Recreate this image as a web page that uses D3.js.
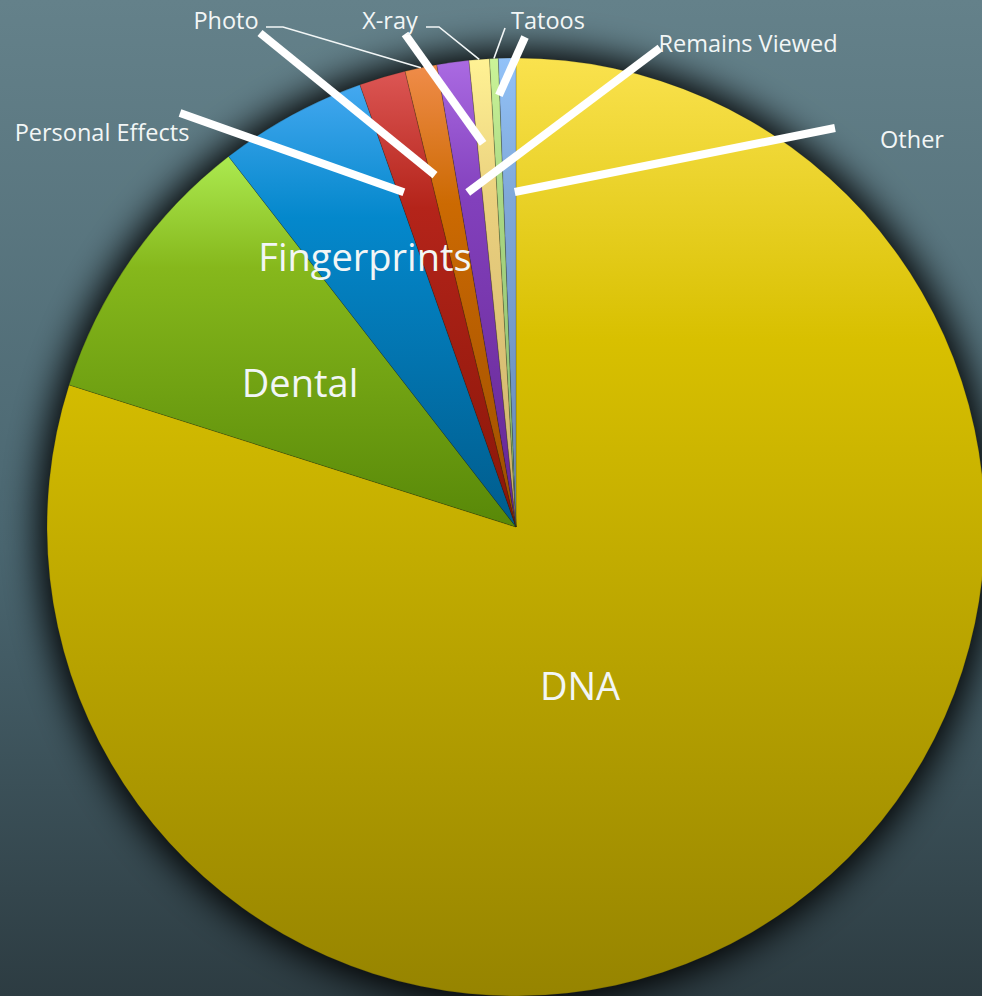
<!DOCTYPE html>
<html>
<head>
<meta charset="utf-8">
<script src="https://cdn.jsdelivr.net/npm/d3@7"></script>
<style>
  html, body { margin: 0; padding: 0; background: #2e3d43; }
  svg { display: block; }
  .lbl { fill: #f2f6f6; font-family: "Open Sans", sans-serif; }
</style>
</head>
<body>
<div id="chart"></div>
<script>
// data, clockwise from 12 o'clock
var categories = ["DNA", "Dental", "Fingerprints", "Personal Effects", "Photo",
                  "Remains Viewed", "X-ray", "Tatoos", "Other"];
var shares = [79.9, 9.6, 5.1, 1.6, 1.1, 1.1, 0.7, 0.3, 0.6];

// slice gradient colours (top, middle, bottom)
var topColors    = ["#fae24e", "#acea50", "#44a8f0", "#dc5654", "#f08c4a", "#aa6ae2", "#fff294", "#cbf498", "#92c2f8"];
var midColors    = ["#d8c000", "#86b81c", "#0488cc", "#b4241a", "#cc6a02", "#8240bc", "#ead07e", "#aad884", "#80a8d8"];
var bottomColors = ["#968400", "#588808", "#005c8c", "#881608", "#9c4e00", "#642690", "#cbb06c", "#88b86a", "#6688b2"];

// layout
var W = 982, H = 996;
var cx = 516, cy = 527, R = 469;

// label anchors (text centre), font sizes
var labelPos  = [[580, 685], [300, 382], [365, 256], [102, 132], [226, 20],
                 [748, 43], [390, 20], [548, 20], [912, 139]];
var labelSize = [38, 38, 38, 23.5, 23.5, 23.5, 23.5, 23.5, 23.5];

// thick white pointers: outer end in px, inner end as fraction through the slice + radius
var pointers = [
  {name: "Personal Effects", from: [180, 113], frac: 0.16, r: 353},
  {name: "Photo",            from: [260, 33],  frac: 0.18, r: 361},
  {name: "X-ray",            from: [405, 34],  frac: 0.34, r: 385},
  {name: "Tatoos",           from: [525, 37],  frac: 0.90, r: 432},
  {name: "Remains Viewed",   from: [660, 48],  frac: 0.38, r: 338},
  {name: "Other",            from: [835, 128], frac: 0.90, r: 335}
];

// thin excel leader lines: label-side points, then to the slice edge at mid angle
var leaders = [
  {name: "Photo",  pts: [[266, 27], [283, 27]]},
  {name: "X-ray",  pts: [[426, 27], [439, 27]]},
  {name: "Tatoos", pts: [[505, 28]]}
];

var svg = d3.select("#chart").append("svg")
    .attr("width", W)
    .attr("height", H);

var defs = svg.append("defs");

var bg = defs.append("linearGradient")
    .attr("id", "bg")
    .attr("x1", 0).attr("y1", 0).attr("x2", 0).attr("y2", 1);
bg.append("stop").attr("offset", "0%").attr("stop-color", "#64818a");
bg.append("stop").attr("offset", "55%").attr("stop-color", "#4a6670");
bg.append("stop").attr("offset", "100%").attr("stop-color", "#2d3c42");

var shadow = defs.append("filter")
    .attr("id", "shadow")
    .attr("x", "-20%").attr("y", "-20%").attr("width", "140%").attr("height", "140%");
shadow.append("feGaussianBlur").attr("stdDeviation", 18);

categories.forEach(function(c, i) {
  var g = defs.append("linearGradient")
      .attr("id", "grad" + i)
      .attr("x1", 0).attr("y1", 0).attr("x2", 0).attr("y2", 1);
  g.append("stop").attr("offset", "0%").attr("stop-color", topColors[i]);
  g.append("stop").attr("offset", "30%").attr("stop-color", midColors[i]);
  g.append("stop").attr("offset", "100%").attr("stop-color", bottomColors[i]);
});

svg.append("rect")
    .attr("width", W)
    .attr("height", H)
    .attr("fill", "url(#bg)");

var plot = svg.append("g")
    .attr("transform", "translate(" + cx + "," + cy + ")");

// dark halo under the pie
plot.append("circle")
    .attr("r", R + 8)
    .attr("fill", "#030505")
    .attr("opacity", 1)
    .attr("filter", "url(#shadow)");

var pie = d3.pie()
    .sort(null)
    .value(function(d) { return d; })
    .startAngle(0)
    .endAngle(2 * Math.PI);

var arcs = pie(shares);

var arc = d3.arc()
    .innerRadius(0)
    .outerRadius(R);

plot.selectAll("path.slice")
    .data(arcs)
  .enter().append("path")
    .attr("class", "slice")
    .attr("d", arc)
    .attr("fill", function(d, i) { return "url(#grad" + i + ")"; })
    .attr("stroke", "rgba(40,40,20,0.35)")
    .attr("stroke-width", 0.6);

function polar(angle, r) {
  return [cx + r * Math.sin(angle), cy - r * Math.cos(angle)];
}

// thin leader lines
var line = d3.line();
leaders.forEach(function(l) {
  var a = arcs[categories.indexOf(l.name)];
  var mid = (a.startAngle + a.endAngle) / 2;
  var pts = l.pts.concat([polar(mid, R)]);
  svg.append("path")
      .attr("d", line(pts))
      .attr("fill", "none")
      .attr("stroke", "#f2f6f6")
      .attr("stroke-width", 1.6);
});

// thick white pointers
pointers.forEach(function(p) {
  var a = arcs[categories.indexOf(p.name)];
  var ang = a.startAngle + p.frac * (a.endAngle - a.startAngle);
  var end = polar(ang, p.r);
  svg.append("line")
      .attr("x1", p.from[0]).attr("y1", p.from[1])
      .attr("x2", end[0]).attr("y2", end[1])
      .attr("stroke", "#ffffff")
      .attr("stroke-width", 8);
});

// labels
svg.selectAll("text.lbl")
    .data(categories)
  .enter().append("text")
    .attr("class", "lbl")
    .attr("x", function(d, i) { return labelPos[i][0]; })
    .attr("y", function(d, i) { return labelPos[i][1]; })
    .attr("text-anchor", "middle")
    .attr("dominant-baseline", "central")
    .style("font-size", function(d, i) { return labelSize[i] + "px"; })
    .text(function(d) { return d; });
</script>
</body>
</html>
